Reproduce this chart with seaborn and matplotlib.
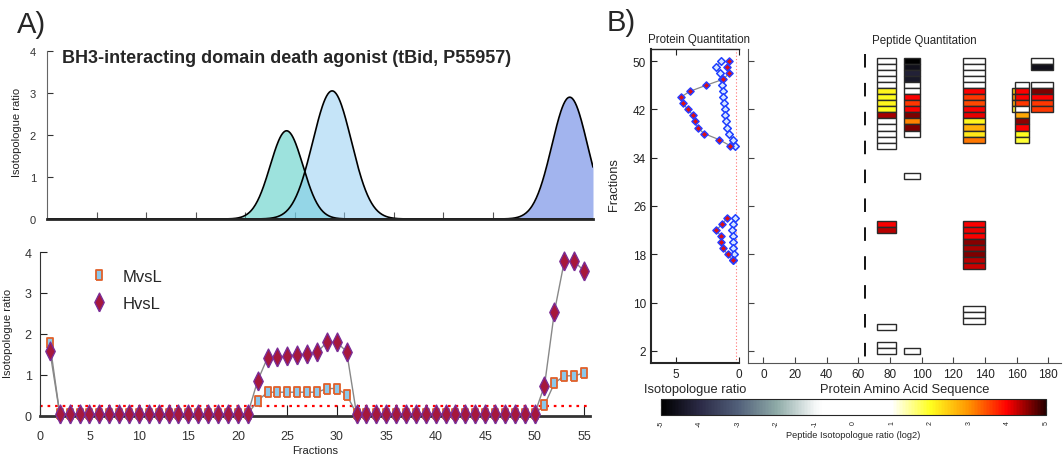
import numpy as np
import pandas as pd
import matplotlib
matplotlib.use("Agg")
import matplotlib.pyplot as plt
import seaborn as sns
from matplotlib.colors import LinearSegmentedColormap, Normalize
from matplotlib.lines import Line2D
from matplotlib.cm import ScalarMappable

sns.set_style("ticks")
plt.rcParams["font.family"] = ["Liberation Sans", "DejaVu Sans"]

# =========================
# data: panel A top (fitted elution peaks)
# =========================
peak_centre = [24.2, 28.8, 52.8]
peak_height = [2.1, 3.05, 2.9]
peak_sigma = [1.65, 1.95, 1.8]

# =========================
# data: panel A bottom (ratio per fraction)
# =========================
fractions = list(range(1, 56))
mvsl = [1.77,
        0.05, 0.05, 0.05, 0.05, 0.05, 0.05, 0.05, 0.05, 0.05, 0.05,
        0.05, 0.05, 0.05, 0.05, 0.05, 0.05, 0.05, 0.05, 0.05, 0.05,
        0.37, 0.58, 0.58, 0.58, 0.58, 0.58, 0.58, 0.67, 0.67, 0.52,
        0.05, 0.05, 0.05, 0.05, 0.05, 0.05, 0.05, 0.05, 0.05, 0.05,
        0.05, 0.05, 0.05, 0.05, 0.05, 0.05, 0.05, 0.05, 0.05,
        0.27, 0.80, 0.98, 0.98, 1.05]
hvsl = [1.58,
        0.05, 0.05, 0.05, 0.05, 0.05, 0.05, 0.05, 0.05, 0.05, 0.05,
        0.05, 0.05, 0.05, 0.05, 0.05, 0.05, 0.05, 0.05, 0.05, 0.05,
        0.86, 1.42, 1.43, 1.47, 1.50, 1.51, 1.55, 1.80, 1.80, 1.57,
        0.05, 0.05, 0.05, 0.05, 0.05, 0.05, 0.05, 0.05, 0.05, 0.05,
        0.05, 0.05, 0.05, 0.05, 0.05, 0.05, 0.05, 0.05, 0.05,
        0.74, 2.54, 3.77, 3.77, 3.54]
threshold = 0.25

# =========================
# data: panel B left (protein quantitation)
# =========================
prot_frac = [50, 49, 48, 47, 46, 45, 44, 43, 42, 41, 40, 39, 38, 37, 36,
             24, 23, 22, 21, 20, 19, 18, 17]
prot_h = [0.79, 0.95, 0.77, 1.25, 2.6, 3.9, 4.65, 4.47, 4.07, 3.65, 3.5, 3.3, 2.78, 1.6, 0.71,
          0.93, 1.35, 1.8, 1.45, 1.4, 1.3, 0.9, 0.5]
prot_m = [1.4, 1.83, 1.53, 1.35, 1.32, 1.3, 1.25, 1.19, 1.14, 1.08, 1.03, 0.95, 0.82, 0.5, 0.34,
          0.34, 0.45, 0.58, 0.5, 0.5, 0.48, 0.37, 0.5]

# =========================
# data: panel B right (peptide quantitation, log2 ratios)
# =========================
pep_start = [72, 89, 126, 157, 159, 169]
pep_end = [84, 99, 140, 166, 168, 183]
pep1_frac = [50, 49, 48, 47, 46, 45, 44, 43, 42, 41, 40, 39, 38, 37, 36, 23, 22, 6, 3, 2]
pep1_log2 = [0, 0, 0, 0, 0, 2.1, 2.0, 2.1, 2.0, 4.4, 0, 0, 0, 0, 0, 4.0, 4.3, 0, 0, 0]
pep2_frac = [50, 49, 48, 47, 46, 45, 44, 43, 42, 41, 40, 39, 38, 31, 2]
pep2_log2 = [-5.0, -4.6, -4.2, -4.4, 0, 0, 4.0, 3.6, 4.0, 4.6, 3.1, 4.6, 0, 0, 0]
pep3_frac = [50, 49, 48, 47, 46, 45, 44, 43, 42, 41, 40, 39, 38, 37,
             23, 22, 21, 20, 19, 18, 17, 16, 9, 8, 7]
pep3_log2 = [0, 0, 0, 0, 0, 4.0, 3.6, 3.5, 4.0, 4.1, 2.1, 2.7, 2.2, 3.2,
             4.0, 4.1, 4.0, 4.55, 4.4, 4.6, 4.3, 4.25, 0, 0, 0]
pep4_frac = [45, 44, 43, 42]
pep4_log2 = [2.5, 3.0, 2.8, 1.8]
pep5_frac = [46, 45, 44, 43, 42, 41, 40, 39, 38, 37]
pep5_log2 = [0, 4.0, 4.0, 3.6, 0, 2.8, 4.5, 4.0, 2.0, 1.9]
pep6_frac = [50, 49, 46, 45, 44, 43, 42]
pep6_log2 = [0, -4.6, 0, 4.6, 4.0, 3.6, 3.6]
cleavage_site = 64.2

# -------------------------
# figure
# -------------------------
W, H = 1063, 460
fig = plt.figure(figsize=(W / 100, H / 100), dpi=100)


def px_axes(left, top, right, bottom):
    return fig.add_axes([left / W, 1 - bottom / H, (right - left) / W, (bottom - top) / H])


fig.text(17 / W, 1 - 25 / H, "A)", fontsize=21, va="center", ha="left")
fig.text(607 / W, 1 - 23 / H, "B)", fontsize=21, va="center", ha="left")

# ---- A top: gaussian peaks
ax1 = px_axes(47, 52, 593, 220)
xs = np.linspace(0, 55.15, 800)
fills = [("#3cc6bc", 0.5), ("#8dcbf2", 0.5), ("#a2b4ee", 1.0)]
for (c, a), mu, h, sd in zip(fills, peak_centre, peak_height, peak_sigma):
    ys = h * np.exp(-0.5 * ((xs - mu) / sd) ** 2)
    ax1.fill_between(xs, 0, ys, color=c, alpha=a, lw=0)
    sns.lineplot(x=xs, y=ys, ax=ax1, color="black", lw=1.2, sort=False)
ax1.set_xlim(0, 55.15)
ax1.set_ylim(0, 4)
ax1.set_xticks(range(5, 51, 5))
ax1.set_xticklabels([])
ax1.set_yticks([0, 1, 2, 3, 4])
ax1.tick_params(axis="y", direction="in", length=4, labelsize=8, colors="#333", pad=8)
ax1.tick_params(axis="x", direction="in", length=5, color="#555")
for s in ["top", "right"]:
    ax1.spines[s].set_visible(False)
ax1.spines["bottom"].set_linewidth(2)
ax1.spines["left"].set_color("#666")
ax1.spines["left"].set_linewidth(0.8)
ax1.set_ylabel("Isotopologue ratio", fontsize=8, color="#222")
ax1.yaxis.set_label_coords(-0.046, 0.52)
ax1.text(0.027, 0.964, "BH3-interacting domain death agonist (tBid, P55957)",
         transform=ax1.transAxes, ha="left", va="center", fontsize=13, fontweight="bold")

# ---- A bottom: ratios
ax2 = px_axes(40, 253, 590, 417)
dfa = pd.DataFrame({"Fractions": fractions, "MvsL": mvsl, "HvsL": hvsl})
ax2.axhline(threshold, color="red", ls=(0, (1.2, 2.2)), lw=1.6, zorder=1)
sns.lineplot(data=dfa, x="Fractions", y="MvsL", ax=ax2, color="#888", lw=1, zorder=2)
sns.lineplot(data=dfa, x="Fractions", y="HvsL", ax=ax2, color="#888", lw=1, zorder=2)
rect = [(-0.6, -1), (0.6, -1), (0.6, 1), (-0.6, 1), (-0.6, -1)]
diam = [(0, -1), (0.5, 0), (0, 1), (-0.5, 0), (0, -1)]
sns.scatterplot(data=dfa, x="Fractions", y="MvsL", ax=ax2, marker=rect, s=52,
                color="#8cc8ea", edgecolor="#e0602a", linewidth=1.3, zorder=3, clip_on=False)
sns.scatterplot(data=dfa, x="Fractions", y="HvsL", ax=ax2, marker=diam, s=185,
                color="#a6183c", edgecolor="#7b2d96", linewidth=1.0, zorder=4, clip_on=False)
ax2.set_xlim(0, 55.6)
ax2.set_ylim(0, 4)
ax2.set_xticks(range(0, 56, 5))
ax2.set_yticks([0, 1, 2, 3, 4])
ax2.tick_params(axis="x", direction="in", length=8, labelsize=9, colors="#333", color="#222", pad=10)
ax2.tick_params(axis="y", direction="in", length=5, labelsize=9, colors="#333", color="#222", pad=6)
for s in ["top", "right"]:
    ax2.spines[s].set_visible(False)
ax2.spines["bottom"].set_linewidth(2)
ax2.spines["bottom"].set_color("#333")
ax2.spines["left"].set_color("#333")
ax2.set_xlabel("Fractions", fontsize=8, color="#222", labelpad=2)
ax2.set_ylabel("Isotopologue ratio", fontsize=8, color="#222")
ax2.yaxis.set_label_coords(-0.049, 0.51)
handles = [Line2D([], [], ls="none", marker=rect, ms=7, mfc="#8cc8ea", mec="#e0602a", mew=1.3),
           Line2D([], [], ls="none", marker=diam, ms=13.5, mfc="#a6183c", mec="#7b2d96", mew=1.0)]
ax2.legend(handles, ["MvsL", "HvsL"], loc="upper left", bbox_to_anchor=(0.065, 0.99),
           frameon=False, fontsize=12, handletextpad=0.9, labelspacing=0.75, handlelength=1.0)

# ---- B left: protein quantitation
ax3 = px_axes(651, 50, 739, 364)
dfp = pd.DataFrame({"frac": prot_frac, "H": prot_h, "M": prot_m})
dfp["group"] = np.where(dfp["frac"] > 30, "late", "early")
ax3.axvline(threshold, color="#ff7070", ls=(0, (1, 2)), lw=0.8, zorder=1)
sns.lineplot(data=dfp, x="H", y="frac", units="group", estimator=None, sort=False,
             ax=ax3, color="#888", lw=0.9, zorder=2)
sns.lineplot(data=dfp, x="M", y="frac", units="group", estimator=None, sort=False,
             ax=ax3, color="#888", lw=0.9, zorder=2)
sns.scatterplot(data=dfp, x="M", y="frac", ax=ax3, marker="D", s=15, color="#d6e6ff",
                edgecolor="#2040ff", linewidth=1.1, zorder=3)
sns.scatterplot(data=dfp, x="H", y="frac", ax=ax3, marker="D", s=13, color="#e01010",
                edgecolor="#2a3cff", linewidth=1.1, zorder=4)
ax3.set_xlim(7, 0)
ax3.set_ylim(0, 52)
ax3.set_xticks([5, 0])
ax3.set_yticks([2, 10, 18, 26, 34, 42, 50])
ax3.tick_params(axis="both", direction="in", length=4, labelsize=8.5, colors="#222", top=True)
ax3.spines["right"].set_visible(False)
ax3.spines["left"].set_linewidth(1.5)
ax3.spines["bottom"].set_linewidth(1.5)
ax3.spines["top"].set_linewidth(1.0)
ax3.set_xlabel("Isotopologue ratio", fontsize=9.3, labelpad=2)
ax3.set_ylabel("Fractions", fontsize=9.3)
ax3.yaxis.set_label_coords(-0.35, 0.57)
ax3.text(0.54, 1.032, "Protein Quantitation", transform=ax3.transAxes,
         ha="center", va="center", fontsize=8.3)

# ---- B right: peptide quantitation
cmap = LinearSegmentedColormap.from_list("pep", [
    (0.0, "#000000"), (0.1, "#2b2a46"), (0.2, "#52607a"), (0.3, "#8eaaa7"),
    (0.4, "#f4f7f7"), (0.42, "#ffffff"), (0.58, "#ffffff"), (0.6, "#ffffff"),
    (0.7, "#ffff20"), (0.8, "#ff9400"), (0.9, "#ff0000"), (1.0, "#2a0000")])
norm = Normalize(-5, 5)

ax4 = px_axes(748, 50, 1061, 364)
peptides = [(pep1_frac, pep1_log2), (pep2_frac, pep2_log2), (pep3_frac, pep3_log2),
            (pep4_frac, pep4_log2), (pep5_frac, pep5_log2), (pep6_frac, pep6_log2)]
for (fr, lv), st, en in zip(peptides, pep_start, pep_end):
    ax4.barh(y=fr, width=en - st, left=st, height=1.0, color=cmap(norm(np.array(lv))),
             edgecolor="#2a2a2a", linewidth=1.0)
ax4.plot([cleavage_site, cleavage_site], [51.2, 0], color="black", lw=1.3, ls=(0, (7.5, 8.5)))
ax4.set_xlim(-9.7, 188)
ax4.set_ylim(0, 52)
ax4.set_xticks(range(0, 181, 20))
ax4.set_yticks([2, 10, 18, 26, 34, 42, 50])
ax4.set_yticklabels([])
ax4.tick_params(axis="both", direction="in", length=4, labelsize=8.5, colors="#222", color="#444")
for s in ["top", "right"]:
    ax4.spines[s].set_visible(False)
ax4.spines["left"].set_color("#555")
ax4.spines["bottom"].set_color("#555")
ax4.set_xlabel("Protein Amino Acid Sequence", fontsize=9.3, labelpad=2)
ax4.text(0.562, 1.029, "Peptide Quantitation", transform=ax4.transAxes,
         ha="center", va="center", fontsize=8.3)

# ---- colorbar
cax = px_axes(661, 400, 1046, 416)
cb = fig.colorbar(ScalarMappable(norm=norm, cmap=cmap), cax=cax, orientation="horizontal")
cb.set_ticks(range(-5, 6))
cb.set_ticklabels([str(t) for t in range(-5, 6)])
cax.tick_params(direction="in", length=5, labelsize=5, top=True, bottom=True, width=0.8)
for lab in cax.get_xticklabels():
    lab.set_rotation(90)
cb.outline.set_linewidth(0.8)
cb.set_label("Peptide Isotopologue ratio (log2)", fontsize=6.7, labelpad=3)

fig.savefig("out.png", dpi=100)
